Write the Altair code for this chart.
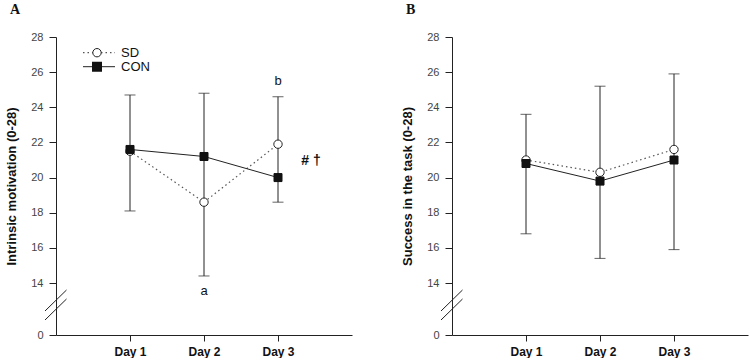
import altair as alt
import pandas as pd

days = ["Day 1", "Day 2", "Day 3"]
y_ticks = [0, 14, 16, 18, 20, 22, 24, 26, 28]

# Panel A: intrinsic motivation
motivation_sd = [21.5, 18.6, 21.9]
motivation_con = [21.6, 21.2, 20.0]
motivation_err_low = [18.1, 14.4, 18.6]
motivation_err_high = [24.7, 24.8, 24.6]

# Panel B: success in the task
success_sd = [21.0, 20.3, 21.6]
success_con = [20.8, 19.8, 21.0]
success_err_low = [16.8, 15.4, 15.9]
success_err_high = [23.6, 25.2, 25.9]

W, H = 296, 298
Y14 = 246  # pixel row of 14 on the broken axis
INK = "#222222"
SANS = "Liberation Sans"

x_scale = alt.Scale(type="point", domain=days, padding=1)
y_scale = alt.Scale(domain=[0, 14, 28], range=[H, Y14, 0], zero=False, nice=False)

x_axis = alt.Axis(
    title=None, labelFont=SANS, labelFontSize=12, labelFontWeight="bold",
    labelColor="#111111", domainColor=INK, tickColor=INK, tickSize=6,
    labelPadding=5, labelAngle=0, grid=False,
)


def y_axis(title):
    return alt.Axis(
        title=title, values=y_ticks, labelFont=SANS, labelFontSize=11,
        labelColor="#444444", domainColor=INK, tickColor=INK, tickSize=7,
        labelPadding=6, grid=False, titleFont=SANS, titleFontSize=13,
        titleFontWeight="bold", titleColor="#111111", titlePadding=12,
    )


def panel(letter, ytitle, sd, con, lo, hi, notes, legend):
    means = pd.DataFrame({
        "day": days * 2,
        "group": ["SD"] * 3 + ["CON"] * 3,
        "value": sd + con,
    })
    errs = pd.DataFrame({"day": days, "lo": lo, "hi": hi})
    ya = y_axis(ytitle)

    def X():
        return alt.X("day:N", scale=x_scale, axis=x_axis, sort=days)

    def Y(field):
        return alt.Y(f"{field}:Q", scale=y_scale, axis=ya)

    bars = alt.Chart(errs).mark_rule(color=INK, strokeWidth=1).encode(
        x=X(), y=Y("lo"), y2="hi"
    )
    cap_lo = alt.Chart(errs).mark_tick(
        color=INK, orient="horizontal", size=11, thickness=1
    ).encode(x=X(), y=Y("lo"))
    cap_hi = alt.Chart(errs).mark_tick(
        color=INK, orient="horizontal", size=11, thickness=1
    ).encode(x=X(), y=Y("hi"))

    line_sd = alt.Chart(means).transform_filter("datum.group == 'SD'").mark_line(
        color="#555555", strokeWidth=1.2, strokeDash=[1.5, 3]
    ).encode(x=X(), y=Y("value"))
    line_con = alt.Chart(means).transform_filter("datum.group == 'CON'").mark_line(
        color=INK, strokeWidth=1
    ).encode(x=X(), y=Y("value"))

    pt_sd = alt.Chart(means).transform_filter("datum.group == 'SD'").mark_point(
        shape="circle", filled=True, fill="white", stroke=INK, strokeWidth=1,
        size=70, opacity=1,
    ).encode(x=X(), y=Y("value"))
    pt_con = alt.Chart(means).transform_filter("datum.group == 'CON'").mark_point(
        shape="square", filled=True, fill="#111111", stroke="#111111",
        strokeWidth=1, size=64, opacity=1,
    ).encode(x=X(), y=Y("value"))

    layers = [bars, cap_lo, cap_hi, line_sd, line_con, pt_sd, pt_con]

    # letters marking significant differences
    for day, val, text, dx, dy, weight, fsize in notes:
        nd = pd.DataFrame({"day": [day], "value": [val], "label": [text]})
        layers.append(
            alt.Chart(nd).mark_text(
                font=SANS, fontSize=fsize, fontWeight=weight, color="#111111",
                dx=dx, dy=dy, align="center", baseline="middle",
            ).encode(x=X(), y=Y("value"), text="label:N")
        )

    # axis break marks on the y axis
    for y0, y1 in [(274, 253), (283, 262)]:
        layers.append(
            alt.Chart(pd.DataFrame({"k": [0]})).mark_rule(
                color=INK, strokeWidth=1
            ).encode(
                x=alt.value(-11), y=alt.value(y0),
                x2=alt.value(10.5), y2=alt.value(y1),
            )
        )

    # panel letter
    layers.append(
        alt.Chart(pd.DataFrame({"t": [letter]})).mark_text(
            font="Liberation Serif", fontSize=14, fontWeight="bold",
            color="#111111", align="left", baseline="top",
        ).encode(x=alt.value(-46), y=alt.value(-34), text="t:N")
    )

    if legend:
        leg = pd.DataFrame({"k": [0]})
        rows = [("SD", 15.7), ("CON", 29.7)]
        for name, ry in rows:
            if name == "SD":
                ln = alt.Chart(leg).mark_rule(
                    color="#555555", strokeWidth=1.2, strokeDash=[1.5, 3]
                )
                sym = alt.Chart(leg).mark_point(
                    shape="circle", filled=True, fill="white", stroke=INK,
                    strokeWidth=1, size=70, opacity=1,
                )
            else:
                ln = alt.Chart(leg).mark_rule(color=INK, strokeWidth=1)
                sym = alt.Chart(leg).mark_point(
                    shape="square", filled=True, fill="#111111",
                    stroke="#111111", size=64, opacity=1,
                )
            layers.append(ln.encode(x=alt.value(27), x2=alt.value(59),
                                    y=alt.value(ry), y2=alt.value(ry)))
            layers.append(sym.encode(x=alt.value(41), y=alt.value(ry)))
            layers.append(
                alt.Chart(pd.DataFrame({"t": [name]})).mark_text(
                    font=SANS, fontSize=13, color="#111111",
                    align="left", baseline="middle",
                ).encode(x=alt.value(65), y=alt.value(ry), text="t:N")
            )

    return alt.layer(*layers).properties(width=W, height=H)


notes_a = [
    ("Day 3", motivation_err_high[2], "b", 0, -16, "normal", 13),
    ("Day 2", motivation_err_low[1], "a", 0, 15, "normal", 13),
    ("Day 3", motivation_sd[2] - 0.95, "# †", 33, 0, "bold", 14),
]

chart_a = panel("A", "Intrinsic motivation (0-28)", motivation_sd, motivation_con,
                motivation_err_low, motivation_err_high, notes_a, True)
chart_b = panel("B", "Success in the task (0-28)", success_sd, success_con,
                success_err_low, success_err_high, [], False)

chart = alt.hconcat(chart_a, chart_b, spacing=48).properties(
    padding={"left": 5, "top": 2, "right": 0, "bottom": 0}
).configure(background="white", view=alt.ViewConfig(stroke="transparent"))

chart.save("out.html", embed_options={"renderer": "svg", "actions": False})
